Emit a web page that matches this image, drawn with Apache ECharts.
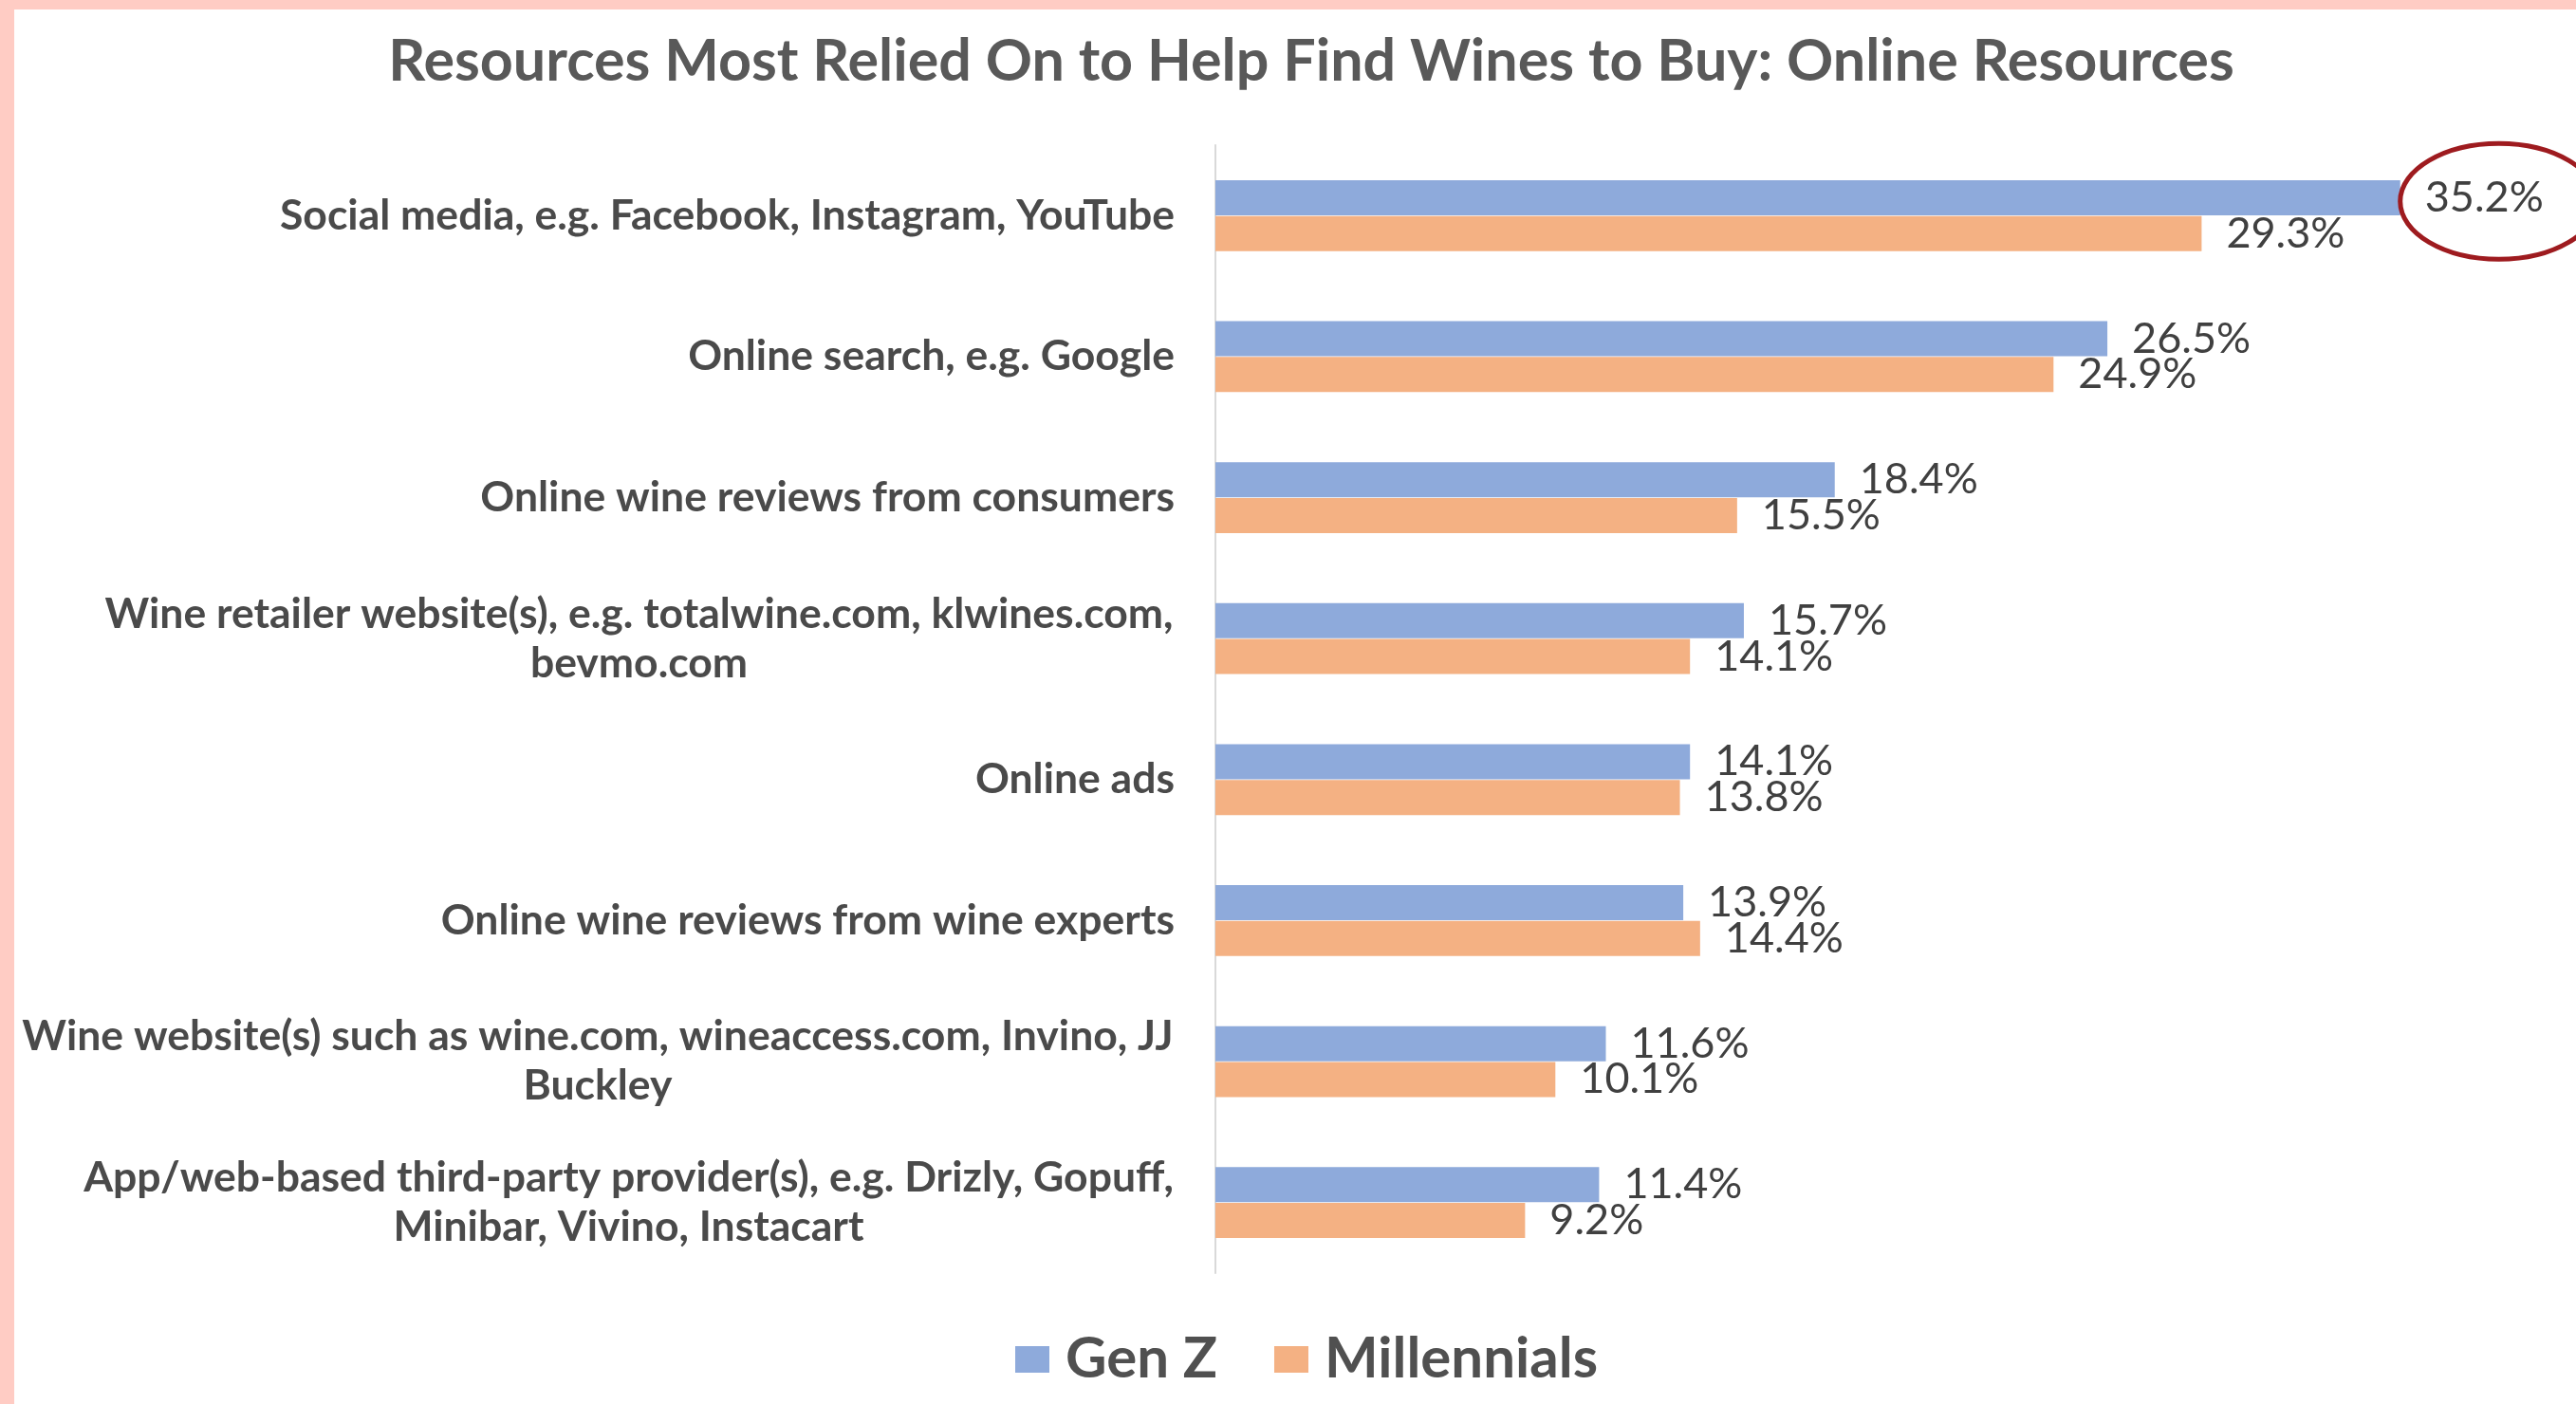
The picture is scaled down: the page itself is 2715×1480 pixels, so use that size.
<!DOCTYPE html>
<html>
<head>
<meta charset="utf-8">
<script src="https://cdn.jsdelivr.net/npm/echarts@6/dist/echarts.min.js"></script>
<style>
  html, body { margin: 0; padding: 0; width: 2715px; height: 1480px; background: #ffccc4; overflow: hidden; }
  #chart { position: absolute; left: 15px; top: 10px; width: 2700px; height: 1470px; background: #ffffff; }
</style>
</head>
<body>
<div id="chart"></div>
<script>
// Survey categories, top to bottom
const categories = [
  'Social media, e.g. Facebook, Instagram, YouTube',
  'Online search, e.g. Google',
  'Online wine reviews from consumers',
  'Wine retailer website(s), e.g. totalwine.com, klwines.com,\nbevmo.com',
  'Online ads',
  'Online wine reviews from wine experts',
  'Wine website(s) such as wine.com, wineaccess.com, Invino, JJ\nBuckley',
  'App/web-based third-party provider(s), e.g. Drizly, Gopuff,\nMinibar, Vivino, Instacart'
];
// Share of respondents (%)
const genZ        = [35.2, 26.5, 18.4, 15.7, 14.1, 13.9, 11.6, 11.4];
const millennials = [29.3, 24.9, 15.5, 14.1, 13.8, 14.4, 10.1, 9.2];
const seriesNames = ['Gen Z', 'Millennials'];
const titleText = 'Resources Most Relied On to Help Find Wines to Buy: Online Resources';

const FONT = 'Lato, "Open Sans", sans-serif';
const LABEL_SIZE = 44.5;
const LABEL_WEIGHT = 'bold';
const LABEL_COLOR = '#4a4a4a';

// Multi-line category labels are centred line by line, with the block right-aligned to the axis
const measureCtx = document.createElement('canvas').getContext('2d');
measureCtx.font = LABEL_WEIGHT + ' ' + LABEL_SIZE + 'px Lato';
const rich = {};
categories.forEach(function (c, i) {
  const lines = c.split('\n');
  const w = Math.max.apply(null, lines.map(function (l) { return measureCtx.measureText(l).width; }));
  rich['c' + i] = {
    width: Math.ceil(w) + 2, align: 'center',
    fontSize: LABEL_SIZE, fontWeight: LABEL_WEIGHT, fontFamily: FONT,
    color: LABEL_COLOR, lineHeight: 52
  };
});

const chart = echarts.init(document.getElementById('chart'), null, { renderer: 'canvas' });

const valueLabel = {
  show: true,
  position: 'right',
  distance: 26,
  color: '#404040',
  fontSize: 45,
  fontFamily: FONT,
  formatter: function (p) { return p.value.toFixed(1) + '%'; }
};

chart.setOption({
  backgroundColor: '#ffffff',
  animation: false,
  title: {
    text: titleText,
    left: 1362,
    textAlign: 'center',
    top: 20,
    textStyle: { fontFamily: FONT, fontSize: 61, fontWeight: 'bold', color: '#595959' }
  },
  legend: {
    data: seriesNames,
    bottom: 12,
    left: 1050,
    itemWidth: 36,
    itemHeight: 28,
    itemGap: 60,
    icon: 'rect',
    textStyle: { fontFamily: FONT, fontSize: 60, fontWeight: 'bold', color: '#505050', padding: [0, 0, 0, 12] }
  },
  grid: { left: 1266, right: 15, top: 143, bottom: 138, containLabel: false, outerBoundsMode: 'none' },
  xAxis: {
    type: 'value', min: 0, max: 40,
    show: false
  },
  yAxis: {
    type: 'category',
    data: categories,
    inverse: true,
    axisLine: { show: true, lineStyle: { color: '#d9d9d9', width: 2 } },
    axisTick: { show: false },
    splitLine: { show: false },
    axisLabel: {
      margin: 43,
      fontFamily: FONT,
      fontSize: LABEL_SIZE,
      fontWeight: LABEL_WEIGHT,
      color: LABEL_COLOR,
      lineHeight: 52,
      rich: rich,
      formatter: function (value, index) {
        const lines = value.split('\n');
        if (lines.length === 1) return value;
        return lines.map(function (l) { return '{c' + index + '|' + l + '}'; }).join('\n');
      }
    }
  },
  series: [
    {
      name: seriesNames[0], type: 'bar', data: genZ,
      barWidth: 37, barGap: '2%',
      itemStyle: { color: '#8eaadb' },
      label: valueLabel
    },
    {
      name: seriesNames[1], type: 'bar', data: millennials,
      barWidth: 37, barGap: '2%',
      itemStyle: { color: '#f4b183' },
      label: valueLabel
    }
  ]
});

// Red ellipse highlighting the top Gen Z value, placed from the data scale
const tip = chart.convertToPixel({ seriesIndex: 0 }, [genZ[0], 0]);
chart.setOption({
  graphic: [{
    type: 'ellipse',
    shape: { cx: tip[0] + 104, cy: tip[1] - 15, rx: 104, ry: 61 },
    style: { fill: 'none', stroke: '#9e1b1f', lineWidth: 5 },
    z: 100
  }]
});
</script>
</body>
</html>
